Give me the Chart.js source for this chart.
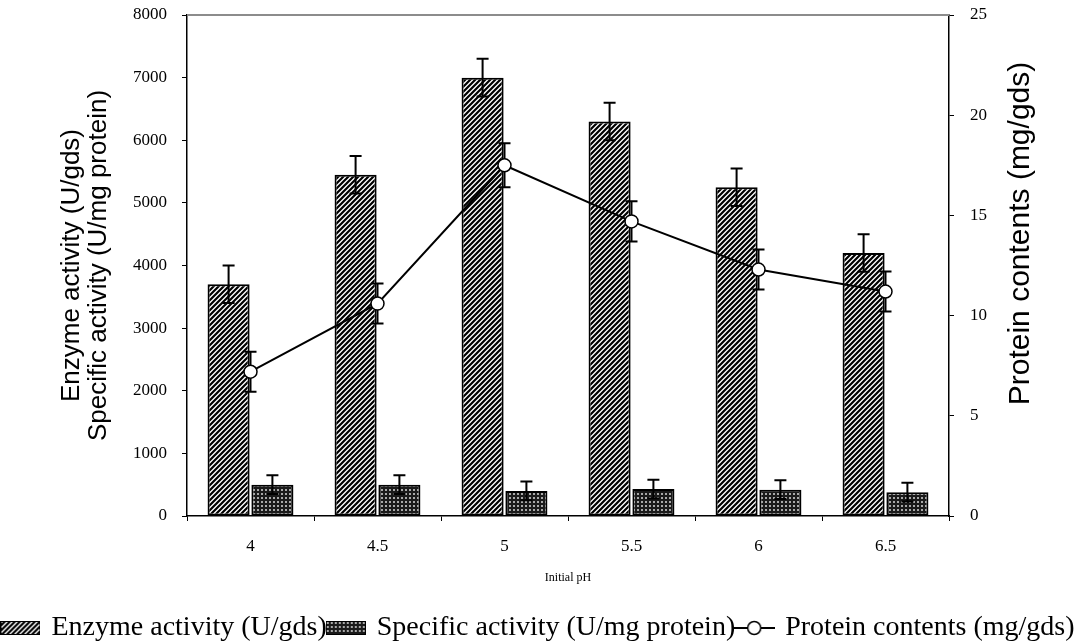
<!DOCTYPE html>
<html>
<head>
<meta charset="utf-8">
<script src="https://cdn.jsdelivr.net/npm/chart.js@4/dist/chart.umd.min.js"></script>
<style>
  html, body { margin: 0; padding: 0; background: #fff; }
  #wrap { width: 1078px; height: 644px; position: relative; }
</style>
</head>
<body>
<div id="wrap"><canvas id="phChart" width="1078" height="644"></canvas></div>
<script>
// values
var phLabels = ['4', '4.5', '5', '5.5', '6', '6.5'];
var enzymeActivity = [3700, 5450, 7000, 6300, 5250, 4200];
var enzymeErr = [300, 300, 300, 300, 300, 300];
var specificActivity = [500, 500, 400, 430, 420, 380];
var specificErr = [150, 150, 150, 150, 150, 150];
var proteinContents = [7.2, 10.6, 17.5, 14.7, 12.3, 11.2];
var proteinErr = [1.0, 1.0, 1.1, 1.0, 1.0, 1.0];
var legendNames = ['Enzyme activity (U/gds)', 'Specific activity (U/mg protein)', 'Protein contents (mg/gds)'];
var rightAxisTitle = 'Protein contents (mg/gds)';

var helperCtx = document.createElement('canvas').getContext('2d');

// diagonal hatch  ////
function makeHatch() {
    var s = 5;
    var c = document.createElement('canvas');
    c.width = s; c.height = s;
    var g = c.getContext('2d');
    g.fillStyle = '#fff';
    g.fillRect(0, 0, s, s);
    g.strokeStyle = '#000';
    g.lineWidth = 2.2;
    g.beginPath();
    for (var k = -1; k <= 1; k++) {
        g.moveTo(k * s - 1, s + 1);
        g.lineTo(k * s + s + 1, -1);
    }
    g.stroke();
    return helperCtx.createPattern(c, 'repeat');
}

// dark dotted grid
function makeDots() {
    var c = document.createElement('canvas');
    c.width = 4; c.height = 4;
    var g = c.getContext('2d');
    g.fillStyle = '#1a1a1a';
    g.fillRect(0, 0, 4, 4);
    g.fillStyle = '#a8a8a8';
    g.fillRect(1, 1, 2, 2);
    return helperCtx.createPattern(c, 'repeat');
}

var hatchFill = makeHatch();
var dotsFill = makeDots();

function barIcon(fill) {
    var c = document.createElement('canvas');
    c.width = 40; c.height = 14;
    var g = c.getContext('2d');
    g.fillStyle = fill;
    g.fillRect(0.5, 0.5, 39, 13);
    g.strokeStyle = '#000';
    g.lineWidth = 1;
    g.strokeRect(0.5, 0.5, 39, 13);
    return c;
}

function lineIcon() {
    var c = document.createElement('canvas');
    c.width = 42; c.height = 18;
    var g = c.getContext('2d');
    g.strokeStyle = '#000';
    g.lineWidth = 2;
    g.beginPath(); g.moveTo(0, 9); g.lineTo(42, 9); g.stroke();
    g.beginPath(); g.arc(21, 9, 6.5, 0, Math.PI * 2);
    g.fillStyle = '#fff'; g.fill();
    g.lineWidth = 1.5; g.stroke();
    return c;
}

var legendIcons = [barIcon(hatchFill), barIcon(dotsFill), lineIcon()];

// error bars drawn through the scales
function drawErrors(chart, index) {
    var ds = chart.data.datasets[index];
    if (!ds.errors) return;
    var meta = chart.getDatasetMeta(index);
    var sc = chart.scales[meta.yAxisID];
    var ctx = chart.ctx;
    ctx.save();
    ctx.strokeStyle = '#000';
    ctx.lineWidth = 2;
    meta.data.forEach(function(el, j) {
        var v = ds.data[j], e = ds.errors[j];
        var x = el.x;
        var y1 = sc.getPixelForValue(v + e), y2 = sc.getPixelForValue(v - e);
        ctx.beginPath();
        ctx.moveTo(x, y1); ctx.lineTo(x, y2);
        ctx.moveTo(x - 6, y1); ctx.lineTo(x + 6, y1);
        ctx.moveTo(x - 6, y2); ctx.lineTo(x + 6, y2);
        ctx.stroke();
    });
    ctx.restore();
}

var errorBars = {
    id: 'errorBars',
    beforeDatasetDraw: function(chart, args) {
        if (chart.data.datasets[args.index].type === 'line') drawErrors(chart, args.index);
    },
    afterDatasetDraw: function(chart, args) {
        if (chart.data.datasets[args.index].type !== 'line') drawErrors(chart, args.index);
    }
};

// grey frame line on top + right axis title reading bottom-to-top
var extras = {
    id: 'extras',
    afterLayout: function(chart) {
        // legend sits a little lower in the figure
        chart.legend.top += 8;
        chart.legend.bottom += 8;
    },
    afterDraw: function(chart) {
        var a = chart.chartArea, ctx = chart.ctx;
        ctx.save();
        ctx.strokeStyle = '#8c8c8c';
        ctx.lineWidth = 2;
        ctx.beginPath();
        ctx.moveTo(a.left, a.top);
        ctx.lineTo(a.right, a.top);
        ctx.stroke();

        var r = chart.scales.y1;
        ctx.translate(r.right - 57, (a.top + a.bottom) / 2 - 32);
        ctx.rotate(-Math.PI / 2);
        ctx.fillStyle = '#000';
        ctx.font = '30px "Liberation Sans"';
        ctx.textAlign = 'center';
        ctx.textBaseline = 'middle';
        ctx.fillText(rightAxisTitle, 0, 0);
        ctx.restore();
    }
};

// keep the plot frame where the figure has it, not pushed by half tick labels
function noLabelPad(s) {
    s.paddingTop = 0;
    s.paddingBottom = 0;
}

var serif = 'Liberation Serif';
var sans = 'Liberation Sans';

var ctx = document.getElementById('phChart');
new Chart(ctx, {
    type: 'bar',
    data: {
        labels: phLabels,
        datasets: [{
            type: 'bar',
            label: legendNames[0],
            data: enzymeActivity,
            errors: enzymeErr,
            backgroundColor: hatchFill,
            borderColor: '#000',
            borderWidth: 2,
            borderSkipped: false,
            yAxisID: 'y',
            order: 1
        }, {
            type: 'bar',
            label: legendNames[1],
            data: specificActivity,
            errors: specificErr,
            backgroundColor: dotsFill,
            borderColor: '#000',
            borderWidth: 2,
            borderSkipped: false,
            yAxisID: 'y',
            order: 1
        }, {
            type: 'line',
            label: legendNames[2],
            data: proteinContents,
            errors: proteinErr,
            borderColor: '#000',
            borderWidth: 2,
            pointRadius: 6.5,
            pointBackgroundColor: '#fff',
            pointBorderColor: '#000',
            pointBorderWidth: 1.5,
            tension: 0,
            fill: false,
            yAxisID: 'y1',
            order: 0
        }]
    },
    options: {
        responsive: false,
        animation: false,
        devicePixelRatio: 1,
        layout: { padding: { top: 15, left: 0, right: 0, bottom: 0 } },
        datasets: {
            bar: { categoryPercentage: 0.69, barPercentage: 0.96 }
        },
        plugins: {
            tooltip: { enabled: false },
            legend: {
                position: 'bottom',
                labels: {
                    usePointStyle: true,
                    pointStyleWidth: 34,
                    boxHeight: 14,
                    padding: 2,
                    color: '#000',
                    font: { family: serif, size: 28, lineHeight: 1.14 },
                    generateLabels: function() {
                        return legendNames.map(function(t, i) {
                            return { text: t, pointStyle: legendIcons[i], datasetIndex: i,
                                     fillStyle: '#fff', strokeStyle: '#000', lineWidth: 0, hidden: false };
                        });
                    }
                }
            }
        },
        scales: {
            x: {
                offset: true,
                grid: { display: true, drawOnChartArea: false, offset: true, tickLength: 5, color: '#000' },
                border: { color: '#000', width: 1.5 },
                ticks: { color: '#000', font: { family: serif, size: 17 }, padding: 15 },
                title: { display: true, text: 'Initial pH', color: '#000',
                         font: { family: serif, size: 12 }, padding: { top: 0, bottom: 19 } },
                afterFit: function(s) { s.height = 88; }
            },
            y: {
                position: 'left',
                min: 0, max: 8000,
                ticks: { stepSize: 1000, color: '#000', font: { family: serif, size: 17 }, padding: 15,
                         callback: function(v) { return String(v); } },
                grid: { display: true, drawOnChartArea: false, tickLength: 5, color: '#000' },
                border: { color: '#000', width: 1.5 },
                title: { display: true, text: ['Enzyme activity (U/gds)', 'Specific activity (U/mg protein)'],
                         color: '#000', font: { family: sans, size: 26, lineHeight: 1.05 },
                         padding: { top: 58, bottom: 0 } },
                afterFit: function(s) { s.width = 187; noLabelPad(s); }
            },
            y1: {
                position: 'right',
                min: 0, max: 25,
                ticks: { stepSize: 5, color: '#000', font: { family: serif, size: 17 }, padding: 16 },
                grid: { display: true, drawOnChartArea: false, tickLength: 5, color: '#000' },
                border: { color: '#000', width: 1.5 },
                title: { display: false },
                afterFit: function(s) { s.width = 129; noLabelPad(s); }
            }
        }
    },
    plugins: [errorBars, extras]
});
</script>
</body>
</html>
